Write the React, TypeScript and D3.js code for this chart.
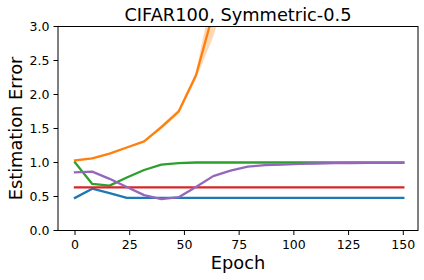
import React from "react";
import * as d3 from "d3";

const epochs = [0, 7.89, 15.79, 23.68, 31.58, 39.47, 47.37, 55.26, 63.16, 71.05, 78.95, 86.84, 94.74, 102.63, 110.53, 118.42, 126.32, 134.21, 142.11, 150];
const blue = [0.48, 0.615, 0.55, 0.48, 0.48, 0.48, 0.48, 0.48, 0.48, 0.48, 0.48, 0.48, 0.48, 0.48, 0.48, 0.48, 0.48, 0.48, 0.48, 0.48];
const orangeEpochs = [0, 7.89, 15.79, 23.68, 31.58, 39.47, 47.37, 55.26, 63.16, 71.05];
const orange = [1.03, 1.06, 1.13, 1.22, 1.31, 1.52, 1.75, 2.28, 3.2, 4.3];
const orangeSpread = [0.005, 0.008, 0.01, 0.012, 0.015, 0.03, 0.035, 0.05, 0.35, 0.6];
const green = [1.0, 0.685, 0.66, 0.78, 0.89, 0.97, 0.99, 1.0, 1.0, 1.0, 1.0, 1.0, 1.0, 1.0, 1.0, 1.0, 1.0, 1.0, 1.0, 1.0];
const red = [0.634, 0.634, 0.634, 0.634, 0.634, 0.634, 0.634, 0.634, 0.634, 0.634, 0.634, 0.634, 0.634, 0.634, 0.634, 0.634, 0.634, 0.634, 0.634, 0.634];
const purple = [0.855, 0.865, 0.76, 0.64, 0.52, 0.46, 0.49, 0.64, 0.8, 0.88, 0.94, 0.96, 0.97, 0.98, 0.985, 0.99, 0.993, 0.995, 0.995, 0.995];
const xTicks = [0, 25, 50, 75, 100, 125, 150];
const yTicks = [0, 0.5, 1.0, 1.5, 2.0, 2.5, 3.0];
const title = "CIFAR100, Symmetric-0.5";
const xLabel = "Epoch";
const yLabel = "Estimation Error";

const FONT = "DejaVu Sans";

export default function App() {
  const W = 424, H = 280;
  const left = 58, right = 418, top = 26.5, bottom = 230.5;
  const x = d3.scaleLinear().domain([0, 150]).range([75, 403.3]);
  const y = d3.scaleLinear().domain([0, 3]).range([bottom, top]);

  const line = (xs: number[], ys: number[]) =>
    d3.line<number>().x((_, i) => x(xs[i])).y((d) => y(d))(ys) || "";
  const area = d3
    .area<number>()
    .x((_, i) => x(orangeEpochs[i]))
    .y0((d, i) => y(d - orangeSpread[i]))
    .y1((d, i) => y(d + orangeSpread[i]))(orange) || "";

  const series = [
    { c: "#1f77b4", v: blue, xs: epochs },
    { c: "#ff7f0e", v: orange, xs: orangeEpochs },
    { c: "#2ca02c", v: green, xs: epochs },
    { c: "#d62728", v: red, xs: epochs },
    { c: "#9467bd", v: purple, xs: epochs },
  ];

  return (
    <svg width={W} height={H} style={{ position: "absolute", left: 0, top: 0, background: "#fff" }} fontFamily={FONT}>
      <defs>
        <clipPath id="plot">
          <rect x={left} y={top} width={right - left} height={bottom - top} />
        </clipPath>
      </defs>
      <rect width={W} height={H} fill="#fff" />
      <g clipPath="url(#plot)">
        <path d={area} fill="#ff7f0e" opacity={0.3} />
        {series.map((s, i) => (
          <path key={i} d={line(s.xs, s.v)} fill="none" stroke={s.c} strokeWidth={2.3} strokeLinejoin="round" strokeLinecap="square" />
        ))}
      </g>
      <rect x={left} y={top} width={right - left} height={bottom - top} fill="none" stroke="#000" strokeWidth={1} />
      {xTicks.map((t) => (
        <g key={"x" + t}>
          <line x1={x(t)} x2={x(t)} y1={bottom} y2={bottom + 4.5} stroke="#000" strokeWidth={1} />
          <text x={x(t)} y={249} textAnchor="middle" fontSize={12.5} fill="#000">{t}</text>
        </g>
      ))}
      {yTicks.map((t) => (
        <g key={"y" + t}>
          <line x1={left - 4.5} x2={left} y1={y(t)} y2={y(t)} stroke="#000" strokeWidth={1} />
          <text x={49.5} y={y(t)} dy="0.36em" textAnchor="end" fontSize={12.5} fill="#000">{t.toFixed(1)}</text>
        </g>
      ))}
      <text x={(left + right) / 2} y={20.5} textAnchor="middle" fontSize={17.8} fill="#000">{title}</text>
      <text x={(left + right) / 2} y={269} textAnchor="middle" fontSize={17.8} fill="#000">{xLabel}</text>
      <text transform={`translate(21.5, ${(top + bottom) / 2}) rotate(-90)`} textAnchor="middle" fontSize={17.8} fill="#000">{yLabel}</text>
    </svg>
  );
}
